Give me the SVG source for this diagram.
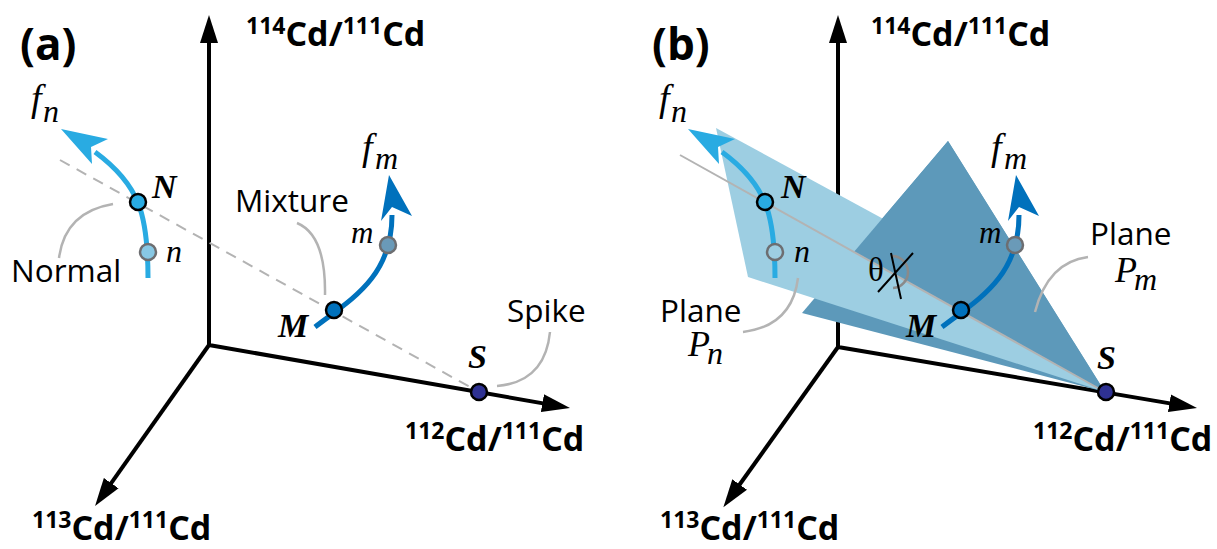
<svg xmlns="http://www.w3.org/2000/svg" width="1217" height="549" viewBox="0 0 1217 549">
<style>
.axis{fill:none;stroke:#000;stroke-width:4;stroke-linejoin:miter}
.lab{font-family:"Open Sans","Noto Sans",sans-serif;font-size:31.5px;fill:#000}
.ax{font-family:"Open Sans","Noto Sans",sans-serif;font-weight:700;font-size:34px;fill:#000}
.sup{font-size:23px}
.pan{font-family:"Open Sans","Noto Sans",sans-serif;font-weight:700;font-size:44px;fill:#000}
.mi{font-family:"Liberation Serif",serif;font-style:italic;fill:#000}
.bi{font-family:"Liberation Serif",serif;font-style:italic;font-weight:700;font-size:34px;fill:#000}
.lead{fill:none;stroke:#b3b3b3;stroke-width:2.5}
.cn{fill:none;stroke:#29abe2;stroke-width:5}
.cm{fill:none;stroke:#0071bc;stroke-width:5}
.dot{stroke:#000;stroke-width:2.5}
.gdot{stroke:#6d6e71;stroke-width:2.5}
</style>
<defs>
<marker id="arr" viewBox="0 -10 30 20" refX="8" refY="0" markerWidth="30" markerHeight="20" markerUnits="userSpaceOnUse" orient="auto-start-reverse">
<path d="M28,0 L0,-9 L0,9 Z" fill="#000"/>
</marker>
</defs>

<!-- Panel (a) -->
<g id="panel-a">
<g id="axes-a">
<path class="axis" d="M209,35 L209,345 L550.3,404.6" marker-start="url(#arr)" marker-end="url(#arr)"/>
<path class="axis" d="M209,345 L106.6,489.7" marker-end="url(#arr)"/>
</g>
<g id="connectors-a">
<path d="M60,160 L479,392" fill="none" stroke="#b3b3b3" stroke-width="2" stroke-dasharray="11 8"/>
<path class="lead" d="M113,204 Q65,212 59,258"/>
<path class="lead" d="M297,223 Q326,235 325,295"/>
<path class="lead" d="M497,386 Q545,382 550,332"/>
<path class="cn" d="M148,278 C148,215 140,185 95,152"/>
<path d="M61,129 L108,139 L91,147 L92,164 Z" fill="#29abe2"/>
<path class="cm" d="M315,327 C350,300 392,278 392,215"/>
<path d="M389,175 L412,216 L392,207 L381,221 Z" fill="#0071bc"/>
</g>
<g id="node-N-a"><circle class="dot" cx="138" cy="202" r="8" fill="#29abe2"/><text class="bi" x="152" y="198">N</text></g>
<g id="node-n-a"><circle class="gdot" cx="148" cy="252" r="8" fill="#88c8e4"/><text class="mi" x="166" y="262" font-size="32">n</text></g>
<g id="node-M-a"><circle class="dot" cx="334" cy="310" r="8" fill="#0071bc"/><text class="bi" x="278" y="337">M</text></g>
<g id="node-m-a"><circle class="gdot" cx="388" cy="245" r="8" fill="#6a9ab8"/><text class="mi" x="351" y="243" font-size="31">m</text></g>
<g id="node-S-a"><circle class="dot" cx="479" cy="392" r="8" fill="#2e3192"/><text class="bi" x="468" y="368">S</text></g>
<g id="labels-a">
<text class="pan" x="20" y="60">(a)</text>
<text class="mi" x="31" y="111" font-size="38">f</text><text class="mi" x="43" y="122" font-size="32">n</text>
<text class="mi" x="362" y="160" font-size="38">f</text><text class="mi" x="375" y="169" font-size="32">m</text>
<text class="lab" x="11" y="282">Normal</text>
<text class="lab" x="235" y="212">Mixture</text>
<text class="lab" x="507" y="322">Spike</text>
<text class="ax" x="246" y="46"><tspan class="sup" dy="-12">114</tspan><tspan dy="12">Cd/</tspan><tspan class="sup" dy="-12">111</tspan><tspan dy="12">Cd</tspan></text>
<text class="ax" x="405" y="451"><tspan class="sup" dy="-12">112</tspan><tspan dy="12">Cd/</tspan><tspan class="sup" dy="-12">111</tspan><tspan dy="12">Cd</tspan></text>
<text class="ax" x="32" y="540"><tspan class="sup" dy="-12">113</tspan><tspan dy="12">Cd/</tspan><tspan class="sup" dy="-12">111</tspan><tspan dy="12">Cd</tspan></text>
</g>
</g>

<!-- Panel (b) -->
<g id="panel-b" transform="translate(627,0)">
<g id="axes-b">
<path class="axis" d="M211,35 L211,347 L550.3,404.6" marker-start="url(#arr)" marker-end="url(#arr)"/>
<path class="axis" d="M211,347 L108,491" marker-end="url(#arr)"/>
</g>
<g id="planes-b">
<polygon points="175,313 321,141 478,392" fill="#5d99ba"/>
<polygon points="89,128 273,228 478,392 121,277" fill="#9dcee2"/>
<polygon points="226.9,252 321,141 478,392" fill="#5d99ba"/>
</g>
<g id="connectors-b">
<path d="M53,155 L478,392" fill="none" stroke="#b3b3b3" stroke-width="2"/>
<path class="lead" d="M171,278 Q165,326 116,332"/>
<path class="lead" d="M461,257 Q421,262 408,312"/>
<path class="cn" d="M148,278 C148,215 140,185 95,152"/>
<path d="M61,129 L108,139 L91,147 L92,164 Z" fill="#29abe2"/>
<path class="cm" d="M315,327 C350,300 392,278 392,215"/>
<path d="M389,175 L412,216 L392,207 L381,221 Z" fill="#0071bc"/>
</g>
<g id="angle-b">
<path d="M264,256 A16,16 0 0 1 266,288" fill="none" stroke="#8a8a8a" stroke-width="2.5"/>
<path d="M251,292 L286,253 M264,253 L274,299" fill="none" stroke="#000" stroke-width="2"/>
<text x="241" y="281" font-family="Liberation Serif,serif" font-size="33">θ</text>
</g>
<g id="node-N-b"><circle class="dot" cx="138" cy="202" r="8" fill="#29abe2"/><text class="bi" x="154" y="198">N</text></g>
<g id="node-n-b"><circle class="gdot" cx="148" cy="252" r="8" fill="#9dcee2"/><text class="mi" x="167" y="262" font-size="32">n</text></g>
<g id="node-M-b"><circle class="dot" cx="334" cy="310" r="8" fill="#0071bc"/><text class="bi" x="279" y="337">M</text></g>
<g id="node-m-b"><circle class="gdot" cx="388" cy="245" r="8" fill="#6a9ab8"/><text class="mi" x="352" y="243" font-size="31">m</text></g>
<g id="node-S-b"><circle class="dot" cx="479" cy="392" r="8" fill="#2e3192"/><text class="bi" x="470" y="369">S</text></g>
<g id="labels-b">
<text class="pan" x="25" y="60">(b)</text>
<text class="mi" x="32" y="111" font-size="38">f</text><text class="mi" x="44" y="122" font-size="32">n</text>
<text class="mi" x="364" y="160" font-size="38">f</text><text class="mi" x="377" y="169" font-size="32">m</text>
<text class="lab" x="33" y="322">Plane</text>
<text class="mi" x="61" y="356" font-size="36">P</text><text class="mi" x="80" y="364" font-size="32">n</text>
<text class="lab" x="463" y="245">Plane</text>
<text class="mi" x="488" y="282" font-size="36">P</text><text class="mi" x="507" y="290" font-size="32">m</text>
<text class="ax" x="244" y="46"><tspan class="sup" dy="-12">114</tspan><tspan dy="12">Cd/</tspan><tspan class="sup" dy="-12">111</tspan><tspan dy="12">Cd</tspan></text>
<text class="ax" x="406" y="451"><tspan class="sup" dy="-12">112</tspan><tspan dy="12">Cd/</tspan><tspan class="sup" dy="-12">111</tspan><tspan dy="12">Cd</tspan></text>
<text class="ax" x="33" y="540"><tspan class="sup" dy="-12">113</tspan><tspan dy="12">Cd/</tspan><tspan class="sup" dy="-12">111</tspan><tspan dy="12">Cd</tspan></text>
</g>
</g>
</svg>
